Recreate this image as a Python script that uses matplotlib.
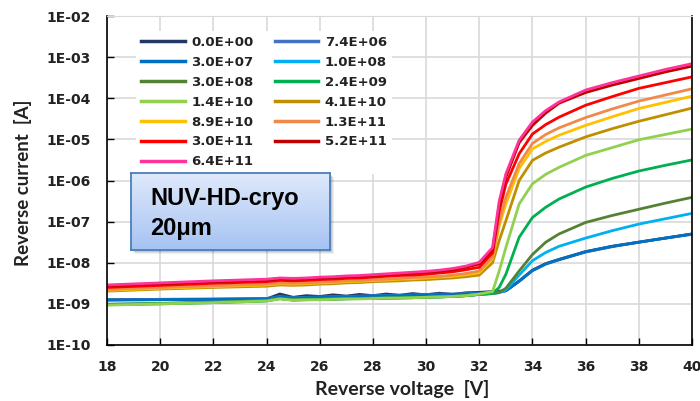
import numpy as np
import matplotlib
matplotlib.use('Agg')
import matplotlib.pyplot as plt
from matplotlib.colors import LinearSegmentedColormap
from matplotlib.ticker import FuncFormatter, FixedLocator, NullLocator
from matplotlib.patches import Rectangle

# reverse voltage points [V]
volts = [18, 20, 22, 24, 24.5, 25, 25.5, 26, 26.5, 27, 27.5, 28, 28.5, 29, 29.5,
         30, 30.5, 31, 31.5, 32, 32.5, 32.75, 33, 33.5, 34, 34.5, 35, 36, 37, 38, 39, 40]

# log10 of reverse current [A], one list per fluence
log_0 = [-8.90, -8.89, -8.89, -8.88, -8.76, -8.84, -8.80, -8.82, -8.78, -8.81, -8.77, -8.80, -8.76, -8.79, -8.75,
         -8.78, -8.74, -8.77, -8.73, -8.72, -8.70, -8.69, -8.68, -8.44, -8.18, -8.02, -7.92, -7.73, -7.60, -7.50, -7.40, -7.30]
log_74e6 = [-8.90, -8.89, -8.88, -8.87, -8.82, -8.85, -8.84, -8.83, -8.82, -8.82, -8.81, -8.80, -8.79, -8.79, -8.78,
            -8.77, -8.76, -8.76, -8.75, -8.74, -8.73, -8.71, -8.68, -8.45, -8.19, -8.03, -7.93, -7.74, -7.61, -7.50, -7.40, -7.31]
log_3e7 = [-8.91, -8.90, -8.89, -8.88, -8.83, -8.86, -8.85, -8.84, -8.83, -8.83, -8.82, -8.81, -8.80, -8.80, -8.79,
           -8.78, -8.77, -8.77, -8.76, -8.75, -8.74, -8.72, -8.68, -8.45, -8.19, -8.03, -7.92, -7.73, -7.60, -7.50, -7.40, -7.30]
log_1e8 = [-9.01, -8.99, -8.96, -8.92, -8.87, -8.90, -8.89, -8.89, -8.88, -8.87, -8.87, -8.86, -8.86, -8.85, -8.85,
           -8.84, -8.83, -8.82, -8.80, -8.77, -8.75, -8.73, -8.66, -8.30, -7.95, -7.75, -7.60, -7.40, -7.22, -7.06, -6.93, -6.80]
log_3e8 = [-9.01, -8.99, -8.96, -8.92, -8.87, -8.90, -8.89, -8.89, -8.88, -8.87, -8.87, -8.86, -8.86, -8.85, -8.85,
           -8.84, -8.83, -8.82, -8.80, -8.77, -8.75, -8.72, -8.62, -8.20, -7.80, -7.50, -7.30, -7.02, -6.85, -6.70, -6.55, -6.41]
log_24e9 = [-9.02, -9.00, -8.97, -8.93, -8.87, -8.91, -8.90, -8.89, -8.89, -8.88, -8.87, -8.87, -8.86, -8.86, -8.85,
            -8.84, -8.83, -8.82, -8.80, -8.77, -8.74, -8.60, -8.28, -7.38, -6.90, -6.65, -6.45, -6.16, -5.95, -5.77, -5.63, -5.50]
log_14e10 = [-9.03, -9.00, -8.97, -8.93, -8.88, -8.91, -8.90, -8.90, -8.89, -8.88, -8.88, -8.87, -8.86, -8.86, -8.85,
             -8.84, -8.83, -8.82, -8.80, -8.76, -8.70, -8.20, -7.63, -6.57, -6.08, -5.85, -5.68, -5.39, -5.20, -5.01, -4.88, -4.75]
log_41e10 = [-8.69, -8.64, -8.60, -8.57, -8.54, -8.55, -8.54, -8.52, -8.51, -8.49, -8.48, -8.46, -8.45, -8.44, -8.42,
             -8.41, -8.39, -8.37, -8.34, -8.30, -8.00, -7.46, -6.98, -6.00, -5.51, -5.33, -5.19, -4.94, -4.74, -4.56, -4.40, -4.24]
log_89e10 = [-8.67, -8.62, -8.58, -8.54, -8.51, -8.52, -8.51, -8.49, -8.48, -8.46, -8.45, -8.43, -8.42, -8.40, -8.39,
             -8.37, -8.35, -8.33, -8.29, -8.24, -7.90, -7.10, -6.57, -5.71, -5.23, -5.05, -4.90, -4.66, -4.45, -4.25, -4.10, -3.95]
log_13e11 = [-8.65, -8.60, -8.56, -8.52, -8.49, -8.50, -8.49, -8.47, -8.46, -8.44, -8.43, -8.41, -8.40, -8.38, -8.36,
             -8.35, -8.33, -8.30, -8.26, -8.20, -7.86, -7.00, -6.41, -5.59, -5.10, -4.88, -4.72, -4.47, -4.26, -4.07, -3.92, -3.77]
log_3e11 = [-8.60, -8.55, -8.50, -8.46, -8.43, -8.44, -8.43, -8.41, -8.40, -8.38, -8.37, -8.35, -8.33, -8.31, -8.30,
            -8.28, -8.25, -8.22, -8.17, -8.11, -7.76, -6.75, -6.09, -5.35, -4.87, -4.64, -4.46, -4.17, -3.96, -3.76, -3.62, -3.48]
log_52e11 = [-8.56, -8.51, -8.46, -8.42, -8.39, -8.40, -8.39, -8.37, -8.36, -8.34, -8.33, -8.31, -8.29, -8.27, -8.25,
             -8.23, -8.20, -8.17, -8.11, -8.03, -7.68, -6.60, -5.92, -5.08, -4.66, -4.36, -4.12, -3.86, -3.68, -3.52, -3.36, -3.22]
log_64e11 = [-8.54, -8.49, -8.44, -8.40, -8.37, -8.38, -8.37, -8.35, -8.34, -8.32, -8.31, -8.29, -8.27, -8.25, -8.23,
             -8.21, -8.18, -8.14, -8.08, -7.99, -7.63, -6.50, -5.84, -5.02, -4.58, -4.30, -4.09, -3.80, -3.62, -3.46, -3.30, -3.16]

labels = ['0.0E+00', '7.4E+06', '3.0E+07', '1.0E+08', '3.0E+08', '2.4E+09', '1.4E+10',
          '4.1E+10', '8.9E+10', '1.3E+11', '3.0E+11', '5.2E+11', '6.4E+11']
series = [log_0, log_74e6, log_3e7, log_1e8, log_3e8, log_24e9, log_14e10,
          log_41e10, log_89e10, log_13e11, log_3e11, log_52e11, log_64e11]
colors = ['#1F3864', '#4472C4', '#0070C0', '#00B0F0', '#548235', '#00B050', '#92D050',
          '#BF8F00', '#FFC000', '#F08A4B', '#FF0000', '#C00000', '#FF3399']

fig = plt.figure(figsize=(7, 4.01), dpi=100)
W, H = 700, 401
ax = fig.add_axes([107 / W, 1 - 345 / H, 585 / W, 329 / H])

v = np.array(volts)
lines = []
for lab, s, c in zip(labels, series, colors):
    ln, = ax.plot(v, 10.0 ** np.array(s), color=c, lw=2.0, label=lab,
                  solid_joinstyle='round')
    lines.append(ln)

ax.set_yscale('log')
ax.set_xlim(18, 40)
ax.set_ylim(1e-10, 1e-2)
ax.xaxis.set_major_locator(FixedLocator(np.arange(18, 41, 2)))
ax.yaxis.set_major_locator(FixedLocator(10.0 ** np.arange(-10, -1)))
ax.yaxis.set_minor_locator(NullLocator())
ax.yaxis.set_major_formatter(FuncFormatter(lambda y, p: '1E%+03d' % int(round(np.log10(y)))))
ax.grid(True, color='#D9D9D9', lw=1.2)
ax.set_axisbelow(True)
ax.tick_params(direction='in', length=5, width=1, labelsize=10, color='black')
ax.tick_params(axis='x', pad=11)
ax.tick_params(axis='y', pad=12)
for t in ax.get_xticklabels() + ax.get_yticklabels():
    t.set_fontweight('bold')
    t.set_color('#222222')
for side in ['left', 'bottom', 'right']:
    ax.spines[side].set_color('black')
    ax.spines[side].set_linewidth(1.2)
ax.spines['top'].set_color('#D9D9D9')

# legend filled row by row like the original
order = list(range(0, 13, 2)) + list(range(1, 13, 2))
leg = ax.legend(handles=[lines[i] for i in order], ncol=2, loc='upper left',
                bbox_to_anchor=(0.038, 0.975),
                frameon=True, fancybox=False, edgecolor='none', facecolor='white', framealpha=1,
                prop={'weight': 'bold', 'size': 9.5}, handlelength=3.3, handletextpad=0.5,
                columnspacing=1.6, labelspacing=0.52, borderpad=0.4)
for h in leg.legend_handles:
    h.set_linewidth(2.5)
for t in leg.get_texts():
    t.set_color('#222222')

fig.text(402 / W, 1 - 389 / H, 'Reverse voltage  [V]', ha='center', va='center',
         fontsize=14, fontweight='bold', family='Lato', color='#222222')
fig.text(23 / W, 1 - 183 / H, 'Reverse current  [A]', ha='center', va='center',
         rotation=90, fontsize=13.5, fontweight='bold', family='Lato', color='#222222')

# label box with gradient fill and soft shadow
bx0, by0, bx1, by1 = 131, 173, 330, 250
for k, a in [(4, 0.06), (3, 0.08), (2, 0.1)]:
    fig.patches.append(Rectangle(((bx0 + k) / W, 1 - (by1 + k) / H), (bx1 - bx0) / W, (by1 - by0) / H,
                                 transform=fig.transFigure, facecolor='black', alpha=a,
                                 edgecolor='none', zorder=5))
box = fig.add_axes([bx0 / W, 1 - by1 / H, (bx1 - bx0) / W, (by1 - by0) / H], zorder=6)
grad = LinearSegmentedColormap.from_list('g', ['#DFE9FB', '#A6C3F2'])
box.imshow(np.linspace(0, 1, 100).reshape(-1, 1), cmap=grad, aspect='auto', extent=(0, 1, 0, 1))
box.set_xlim(0, 1)
box.set_ylim(0, 1)
box.set_xticks([])
box.set_yticks([])
for s in box.spines.values():
    s.set_color('#4A7EBB')
    s.set_linewidth(1.3)
box.text(19 / (bx1 - bx0), 0.58, 'NUV-HD-cryo', fontsize=17, fontweight='bold',
         family='Liberation Sans', va='baseline', ha='left')
box.text(19 / (bx1 - bx0), 0.2, '20μm', fontsize=17, fontweight='bold',
         family='Liberation Sans', va='baseline', ha='left')

fig.savefig('out.png', dpi=100)
